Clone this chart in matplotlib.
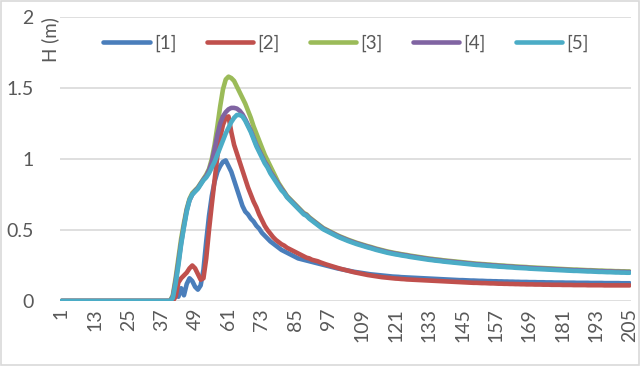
import matplotlib
matplotlib.use("Agg")
import matplotlib.pyplot as plt
from matplotlib.patches import Rectangle

# ---------------- data ----------------
steps = list(range(1, 206))
tick_labels = [str(v) for v in range(1, 206, 12)]
series_names = ["[1]", "[2]", "[3]", "[4]", "[5]"]
series_colors = ["#4A7EBB", "#C0504D", "#9BBB59", "#8064A2", "#4BACC6"]

s1 = [0, 0, 0, 0, 0, 0, 0, 0, 0, 0, 0, 0, 0, 0, 0, 0, 0, 0, 0, 0,
      0, 0, 0, 0, 0, 0, 0, 0, 0, 0, 0, 0, 0, 0, 0, 0, 0, 0, 0,
      0.0, 0.02, 0.07, 0.03, 0.09, 0.04, 0.12, 0.16, 0.14, 0.10, 0.08,
      0.11, 0.22, 0.42, 0.60, 0.74, 0.84, 0.91, 0.95, 0.98, 0.99,
      0.95, 0.91, 0.85, 0.79, 0.73, 0.67, 0.63, 0.61, 0.58, 0.56,
      0.53, 0.51, 0.48, 0.46, 0.44, 0.42, 0.405, 0.39, 0.375, 0.36,
      0.35, 0.34, 0.33, 0.32, 0.31, 0.30, 0.295, 0.29, 0.285, 0.28,
      0.275, 0.27, 0.265, 0.26, 0.255, 0.25, 0.245, 0.24, 0.235, 0.23,
      0.226, 0.222, 0.218, 0.214, 0.21, 0.206, 0.203, 0.2, 0.197, 0.194,
      0.191, 0.188, 0.186, 0.184, 0.182, 0.18, 0.178, 0.176, 0.174, 0.172,
      0.171, 0.17, 0.168, 0.167, 0.166, 0.165, 0.164, 0.163, 0.162, 0.161,
      0.16, 0.159, 0.158, 0.157, 0.156, 0.155, 0.154, 0.153, 0.152, 0.151,
      0.15, 0.149, 0.148, 0.147, 0.147, 0.146, 0.145, 0.144, 0.144, 0.143,
      0.142, 0.142, 0.141, 0.14, 0.14, 0.139, 0.139, 0.138, 0.138, 0.137,
      0.137, 0.136, 0.136, 0.135, 0.135, 0.134, 0.134, 0.134, 0.133, 0.133,
      0.133, 0.132, 0.132, 0.132, 0.131, 0.131, 0.131, 0.13, 0.13, 0.13,
      0.13, 0.129, 0.129, 0.129, 0.129, 0.128, 0.128, 0.128, 0.128, 0.128,
      0.127, 0.127, 0.127, 0.127, 0.127, 0.126, 0.126, 0.126, 0.126, 0.126,
      0.126, 0.125, 0.125, 0.125, 0.125]

s2 = [0, 0, 0, 0, 0, 0, 0, 0, 0, 0, 0, 0, 0, 0, 0, 0, 0, 0, 0, 0,
      0, 0, 0, 0, 0, 0, 0, 0, 0, 0, 0, 0, 0, 0, 0, 0, 0, 0, 0,
      0.0, 0.0, 0.03, 0.13, 0.16, 0.18, 0.20, 0.23, 0.25, 0.23, 0.19,
      0.15, 0.16, 0.30, 0.50, 0.68, 0.85, 1.02, 1.15, 1.24, 1.29,
      1.30, 1.19, 1.10, 1.04, 0.98, 0.92, 0.86, 0.80, 0.75, 0.70,
      0.66, 0.61, 0.57, 0.53, 0.50, 0.475, 0.45, 0.43, 0.415, 0.40,
      0.39, 0.375, 0.365, 0.355, 0.345, 0.335, 0.325, 0.315, 0.305, 0.30,
      0.29, 0.285, 0.28, 0.272, 0.265, 0.258, 0.252, 0.246, 0.24, 0.234,
      0.228, 0.223, 0.218, 0.213, 0.208, 0.203, 0.199, 0.195, 0.191, 0.187,
      0.183, 0.18, 0.177, 0.174, 0.171, 0.168, 0.166, 0.164, 0.162, 0.16,
      0.158, 0.157, 0.155, 0.154, 0.152, 0.151, 0.15, 0.149, 0.148, 0.147,
      0.146, 0.145, 0.144, 0.143, 0.142, 0.141, 0.14, 0.139, 0.138, 0.137,
      0.136, 0.135, 0.134, 0.133, 0.132, 0.131, 0.13, 0.129, 0.128, 0.128,
      0.127, 0.126, 0.126, 0.125, 0.124, 0.124, 0.123, 0.122, 0.122, 0.121,
      0.121, 0.12, 0.12, 0.119, 0.119, 0.118, 0.118, 0.117, 0.117, 0.117,
      0.116, 0.116, 0.116, 0.115, 0.115, 0.115, 0.114, 0.114, 0.114, 0.114,
      0.113, 0.113, 0.113, 0.113, 0.112, 0.112, 0.112, 0.112, 0.112, 0.111,
      0.111, 0.111, 0.111, 0.111, 0.111, 0.11, 0.11, 0.11, 0.11, 0.11,
      0.11, 0.11, 0.11, 0.11, 0.11]

s3 = [0, 0, 0, 0, 0, 0, 0, 0, 0, 0, 0, 0, 0, 0, 0, 0, 0, 0, 0, 0,
      0, 0, 0, 0, 0, 0, 0, 0, 0, 0, 0, 0, 0, 0, 0, 0, 0, 0, 0,
      0.0, 0.04, 0.16, 0.30, 0.44, 0.55, 0.65, 0.72, 0.76, 0.78, 0.80,
      0.83, 0.86, 0.89, 0.93, 1.00, 1.10, 1.23, 1.37, 1.49, 1.56,
      1.58, 1.57, 1.55, 1.51, 1.47, 1.43, 1.39, 1.34, 1.29, 1.23,
      1.18, 1.13, 1.08, 1.03, 0.99, 0.95, 0.91, 0.87, 0.83, 0.80,
      0.77, 0.74, 0.72, 0.70, 0.68, 0.66, 0.64, 0.62, 0.61, 0.59,
      0.574, 0.559, 0.544, 0.529, 0.514, 0.504, 0.494, 0.484, 0.474, 0.464,
      0.455, 0.447, 0.439, 0.431, 0.424, 0.417, 0.41, 0.404, 0.398, 0.392,
      0.386, 0.381, 0.375, 0.369, 0.364, 0.359, 0.354, 0.349, 0.345, 0.341,
      0.337, 0.334, 0.33, 0.327, 0.324, 0.32, 0.317, 0.314, 0.311, 0.308,
      0.305, 0.302, 0.299, 0.297, 0.294, 0.292, 0.29, 0.287, 0.285, 0.283,
      0.281, 0.279, 0.277, 0.275, 0.273, 0.271, 0.269, 0.267, 0.265, 0.263,
      0.262, 0.26, 0.259, 0.257, 0.256, 0.254, 0.253, 0.251, 0.25, 0.249,
      0.247, 0.246, 0.245, 0.243, 0.242, 0.241, 0.24, 0.239, 0.237, 0.236,
      0.235, 0.234, 0.233, 0.232, 0.231, 0.23, 0.229, 0.228, 0.227, 0.226,
      0.225, 0.224, 0.223, 0.222, 0.221, 0.221, 0.22, 0.219, 0.218, 0.217,
      0.217, 0.216, 0.215, 0.214, 0.214, 0.213, 0.212, 0.212, 0.211, 0.21,
      0.21, 0.209, 0.209, 0.208, 0.208]

s4 = [0, 0, 0, 0, 0, 0, 0, 0, 0, 0, 0, 0, 0, 0, 0, 0, 0, 0, 0, 0,
      0, 0, 0, 0, 0, 0, 0, 0, 0, 0, 0, 0, 0, 0, 0, 0, 0, 0, 0,
      0.0, 0.03, 0.14, 0.27, 0.41, 0.53, 0.64, 0.71, 0.75, 0.775, 0.795,
      0.825, 0.855, 0.88, 0.92, 0.98, 1.07, 1.17, 1.25, 1.30, 1.33,
      1.35, 1.36, 1.36, 1.355, 1.34, 1.315, 1.28, 1.24, 1.20, 1.15,
      1.10, 1.06, 1.02, 0.98, 0.95, 0.91, 0.88, 0.85, 0.82, 0.79,
      0.765, 0.735, 0.715, 0.695, 0.675, 0.655, 0.635, 0.615, 0.605, 0.585,
      0.57, 0.555, 0.54, 0.525, 0.51, 0.5, 0.49, 0.48, 0.47, 0.46,
      0.451, 0.443, 0.435, 0.427, 0.42, 0.413, 0.406, 0.4, 0.394, 0.388,
      0.382, 0.377, 0.371, 0.365, 0.36, 0.355, 0.35, 0.345, 0.341, 0.337,
      0.333, 0.33, 0.326, 0.323, 0.32, 0.316, 0.313, 0.31, 0.307, 0.304,
      0.301, 0.298, 0.295, 0.293, 0.29, 0.288, 0.286, 0.283, 0.281, 0.279,
      0.277, 0.275, 0.273, 0.271, 0.269, 0.267, 0.265, 0.263, 0.261, 0.259,
      0.258, 0.256, 0.255, 0.253, 0.252, 0.25, 0.249, 0.247, 0.246, 0.245,
      0.243, 0.242, 0.241, 0.239, 0.238, 0.237, 0.236, 0.235, 0.233, 0.232,
      0.231, 0.23, 0.229, 0.228, 0.227, 0.226, 0.225, 0.224, 0.223, 0.222,
      0.221, 0.22, 0.219, 0.218, 0.217, 0.217, 0.216, 0.215, 0.214, 0.213,
      0.213, 0.212, 0.211, 0.21, 0.21, 0.209, 0.208, 0.208, 0.207, 0.206,
      0.206, 0.205, 0.205, 0.204, 0.204]

s5 = [0, 0, 0, 0, 0, 0, 0, 0, 0, 0, 0, 0, 0, 0, 0, 0, 0, 0, 0, 0,
      0, 0, 0, 0, 0, 0, 0, 0, 0, 0, 0, 0, 0, 0, 0, 0, 0, 0, 0,
      0.0, 0.02, 0.12, 0.25, 0.40, 0.52, 0.63, 0.71, 0.75, 0.77, 0.79,
      0.82, 0.85, 0.87, 0.90, 0.94, 0.98, 1.03, 1.08, 1.13, 1.18,
      1.22, 1.26, 1.29, 1.31, 1.31, 1.30, 1.27, 1.23, 1.19, 1.14,
      1.09, 1.05, 1.01, 0.97, 0.94, 0.90, 0.87, 0.84, 0.81, 0.78,
      0.76, 0.73, 0.71, 0.69, 0.67, 0.65, 0.63, 0.61, 0.60, 0.58,
      0.565, 0.55, 0.535, 0.52, 0.505, 0.495, 0.485, 0.475, 0.465, 0.455,
      0.446, 0.438, 0.43, 0.422, 0.415, 0.408, 0.401, 0.395, 0.389, 0.383,
      0.377, 0.372, 0.366, 0.36, 0.355, 0.35, 0.345, 0.34, 0.336, 0.332,
      0.328, 0.325, 0.321, 0.318, 0.315, 0.311, 0.308, 0.305, 0.302, 0.299,
      0.296, 0.293, 0.29, 0.288, 0.285, 0.283, 0.281, 0.278, 0.276, 0.274,
      0.272, 0.27, 0.268, 0.266, 0.264, 0.262, 0.26, 0.258, 0.256, 0.254,
      0.253, 0.251, 0.25, 0.248, 0.247, 0.245, 0.244, 0.242, 0.241, 0.24,
      0.238, 0.237, 0.236, 0.234, 0.233, 0.232, 0.231, 0.23, 0.228, 0.227,
      0.226, 0.225, 0.224, 0.223, 0.222, 0.221, 0.22, 0.219, 0.218, 0.217,
      0.216, 0.215, 0.214, 0.213, 0.212, 0.212, 0.211, 0.21, 0.209, 0.208,
      0.208, 0.207, 0.206, 0.205, 0.205, 0.204, 0.203, 0.203, 0.202, 0.201,
      0.201, 0.2, 0.2, 0.199, 0.199]

series = [s1, s2, s3, s4, s5]
for s in series:
    assert len(s) == len(steps)

# ---------------- figure ----------------
plt.rcParams['font.family'] = ['Lato', 'DejaVu Sans']
TXT = "#595959"
GRID = "#D9D9D9"

fig = plt.figure(figsize=(6.4, 3.66), dpi=100)
ax = fig.add_axes([60 / 640, 1 - 301 / 366, 571 / 640, 284 / 366])

for s, name, col in zip(series, series_names, series_colors):
    ax.plot(steps, s, color=col, lw=3.3, label=name,
            solid_capstyle='round', solid_joinstyle='round')

ax.set_xlim(0.5, 205.5)
ax.set_ylim(0, 2)
ax.set_yticks([0, 0.5, 1, 1.5, 2])
ax.set_yticklabels(["0", "0.5", "1", "1.5", "2"])
ax.set_xticks(list(range(1, 206, 12)))
ax.set_xticklabels(tick_labels, rotation=90)
ax.tick_params(axis='both', length=0, colors=TXT, labelsize=14)
ax.tick_params(axis='y', pad=19)
ax.tick_params(axis='x', pad=5)
ax.grid(axis='y', color=GRID, lw=1.2)
ax.set_axisbelow(True)
for sp in ax.spines.values():
    sp.set_visible(False)

fig.text(50 / 640, 1 - 40 / 366, "H (m)", rotation=90, ha='center', va='center',
         color=TXT, fontsize=13.5)

ax.legend(loc='center', bbox_to_anchor=(346 / 640, 1 - 43 / 366),
          bbox_transform=fig.transFigure, ncol=5, frameon=False,
          fontsize=13.5, labelcolor=TXT, handlelength=2.5, handletextpad=0.2,
          columnspacing=1.6)

fig.patches.append(Rectangle((0.001, 0.002), 0.997, 0.995, transform=fig.transFigure,
                             fill=False, edgecolor=GRID, lw=1.2))

fig.savefig("out.png", dpi=100)
